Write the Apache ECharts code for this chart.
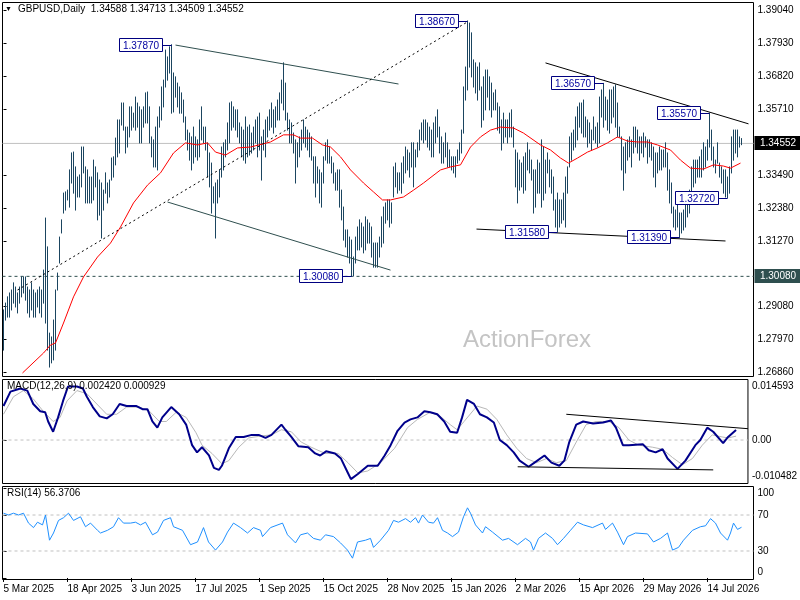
<!DOCTYPE html>
<html><head><meta charset="utf-8">
<script src="https://cdn.jsdelivr.net/npm/echarts@6/dist/echarts.min.js"></script>
<style>html,body{margin:0;padding:0;background:#fff}#c{width:800px;height:600px}</style>
</head><body><div id="c"></div>
<script>
// ---- daily bar highs / lows (bar index 0 = 5 Mar 2025) ----
const hi = [
1.2895,1.2918,1.2939,1.2952,1.2962,1.2986,1.2972,1.2952,1.2972,1.3006,
1.3006,1.3006,1.2972,1.2962,1.2986,1.2962,1.2952,1.2962,1.2972,1.2962,
1.3029,1.3204,1.3107,1.2817,1.2804,1.2861,1.2962,1.3019,1.3140,1.3198,
1.3288,1.3292,1.3298,1.3366,1.3423,1.3426,1.3376,1.3342,1.3349,1.3443,
1.3443,1.3376,1.3366,1.3342,1.3342,1.3399,1.3376,1.3356,1.3332,1.3322,
1.3298,1.3356,1.3322,1.3332,1.3406,1.3410,1.3473,1.3534,1.3534,1.3591,
1.3591,1.3510,1.3510,1.3578,1.3578,1.3557,1.3611,1.3591,1.3578,1.3568,
1.3578,1.3625,1.3628,1.3578,1.3477,1.3467,1.3510,1.3544,1.3578,1.3645,
1.3668,1.3769,1.3746,1.3780,1.3787,1.3692,1.3679,1.3658,1.3645,1.3625,
1.3601,1.3544,1.3500,1.3490,1.3477,1.3510,1.3477,1.3467,1.3534,1.3578,
1.3510,1.3510,1.3457,1.3423,1.3389,1.3309,1.3322,1.3332,1.3366,1.3443,
1.3457,1.3467,1.3524,1.3591,1.3595,1.3578,1.3568,1.3568,1.3524,1.3510,
1.3500,1.3544,1.3510,1.3517,1.3490,1.3510,1.3534,1.3544,1.3557,1.3477,
1.3500,1.3534,1.3544,1.3568,1.3591,1.3568,1.3578,1.3601,1.3625,1.3668,
1.3726,1.3658,1.3557,1.3534,1.3524,1.3490,1.3467,1.3457,1.3477,1.3500,
1.3534,1.3510,1.3500,1.3490,1.3477,1.3410,1.3410,1.3376,1.3366,1.3356,
1.3410,1.3457,1.3467,1.3443,1.3410,1.3389,1.3356,1.3366,1.3366,1.3298,
1.3241,1.3164,1.3164,1.3140,1.3130,1.3073,1.3140,1.3174,1.3198,1.3187,
1.3174,1.3208,1.3198,1.3187,1.3174,1.3120,1.3120,1.3120,1.3140,1.3208,
1.3241,1.3255,1.3265,1.3265,1.3255,1.3376,1.3389,1.3356,1.3356,1.3389,
1.3410,1.3443,1.3433,1.3423,1.3457,1.3457,1.3433,1.3457,1.3500,1.3524,
1.3534,1.3534,1.3524,1.3510,1.3500,1.3524,1.3544,1.3568,1.3510,1.3477,
1.3457,1.3490,1.3457,1.3433,1.3410,1.3410,1.3410,1.3433,1.3457,1.3500,
1.3645,1.3712,1.3867,1.3860,1.3827,1.3736,1.3726,1.3712,1.3726,1.3645,
1.3679,1.3702,1.3702,1.3679,1.3658,1.3625,1.3635,1.3591,1.3578,1.3534,
1.3557,1.3534,1.3534,1.3557,1.3568,1.3510,1.3433,1.3423,1.3399,1.3389,
1.3410,1.3423,1.3457,1.3433,1.3399,1.3366,1.3366,1.3399,1.3389,1.3467,
1.3443,1.3399,1.3423,1.3399,1.3366,1.3342,1.3265,1.3288,1.3265,1.3265,
1.3288,1.3342,1.3376,1.3477,1.3490,1.3500,1.3544,1.3578,1.3591,1.3591,
1.3601,1.3544,1.3534,1.3524,1.3500,1.3544,1.3510,1.3524,1.3611,1.3635,
1.3657,1.3611,1.3601,1.3635,1.3635,1.3645,1.3652,1.3591,1.3510,1.3477,
1.3443,1.3457,1.3467,1.3477,1.3467,1.3510,1.3510,1.3500,1.3477,1.3477,
1.3490,1.3477,1.3467,1.3467,1.3457,1.3443,1.3423,1.3423,1.3443,1.3433,
1.3433,1.3457,1.3423,1.3366,1.3322,1.3241,1.3231,1.3255,1.3221,1.3221,
1.3231,1.3255,1.3265,1.3298,1.3376,1.3399,1.3399,1.3399,1.3410,1.3433,
1.3457,1.3443,1.3467,1.3557,1.3500,1.3443,1.3399,1.3457,1.3389,1.3376,
1.3366,1.3366,1.3342,1.3376,1.3477,1.3500,1.3500,1.3500,1.3477,1.34713];
const lo = [
1.2760,1.2861,1.2871,1.2871,1.2895,1.2918,1.2905,1.2885,1.2918,1.2939,
1.2952,1.2928,1.2885,1.2871,1.2895,1.2871,1.2871,1.2905,1.2885,1.2871,
1.2918,1.2851,1.2760,1.2703,1.2717,1.2727,1.2760,1.2962,1.3053,1.3154,
1.3221,1.3231,1.3265,1.3241,1.3322,1.3288,1.3231,1.3275,1.3275,1.3309,
1.3356,1.3255,1.3255,1.3255,1.3255,1.3265,1.3309,1.3198,1.3214,1.3137,
1.3231,1.3288,1.3255,1.3275,1.3332,1.3342,1.3383,1.3410,1.3423,1.3517,
1.3500,1.3423,1.3443,1.3477,1.3500,1.3510,1.3500,1.3510,1.3457,1.3457,
1.3510,1.3524,1.3524,1.3457,1.3410,1.3376,1.3376,1.3366,1.3510,1.3534,
1.3578,1.3645,1.3668,1.3692,1.3557,1.3561,1.3611,1.3578,1.3557,1.3557,
1.3527,1.3467,1.3433,1.3399,1.3366,1.3389,1.3410,1.3399,1.3410,1.3467,
1.3457,1.3433,1.3342,1.3309,1.3221,1.3255,1.3137,1.3255,1.3275,1.3342,
1.3366,1.3410,1.3433,1.3457,1.3500,1.3510,1.3500,1.3477,1.3457,1.3410,
1.3399,1.3389,1.3410,1.3416,1.3423,1.3433,1.3457,1.3410,1.3433,1.3332,
1.3433,1.3410,1.3477,1.3500,1.3510,1.3490,1.3510,1.3534,1.3534,1.3591,
1.3568,1.3534,1.3500,1.3457,1.3457,1.3423,1.3322,1.3376,1.3410,1.3433,
1.3457,1.3443,1.3433,1.3410,1.3399,1.3322,1.3275,1.3322,1.3255,1.3241,
1.3322,1.3399,1.3389,1.3389,1.3356,1.3322,1.3298,1.3298,1.3241,1.3198,
1.3130,1.3107,1.3073,1.3053,1.3008,1.3010,1.3053,1.3097,1.3097,1.3107,
1.3087,1.3097,1.3120,1.3120,1.3073,1.3039,1.3039,1.3039,1.3073,1.3107,
1.3120,1.3187,1.3198,1.3174,1.3187,1.3275,1.3309,1.3288,1.3298,1.3288,
1.3322,1.3356,1.3366,1.3342,1.3376,1.3309,1.3376,1.3410,1.3433,1.3467,
1.3457,1.3467,1.3443,1.3433,1.3410,1.3410,1.3457,1.3477,1.3423,1.3389,
1.3389,1.3410,1.3376,1.3376,1.3366,1.3356,1.3342,1.3389,1.3399,1.3423,
1.3490,1.3601,1.3635,1.3712,1.3679,1.3645,1.3625,1.3601,1.3635,1.3510,
1.3534,1.3568,1.3611,1.3568,1.3544,1.3568,1.3568,1.3500,1.3490,1.3433,
1.3457,1.3477,1.3457,1.3477,1.3477,1.3443,1.3309,1.3255,1.3298,1.3309,
1.3288,1.3298,1.3366,1.3356,1.3332,1.3221,1.3241,1.3288,1.3288,1.3241,
1.3265,1.3288,1.3356,1.3309,1.3288,1.3231,1.3174,1.3158,1.3174,1.3187,
1.3198,1.3174,1.3288,1.3376,1.3399,1.3433,1.3443,1.3467,1.3510,1.3490,
1.3477,1.3477,1.3443,1.3457,1.3433,1.3467,1.3457,1.3443,1.3457,1.3544,
1.3510,1.3534,1.3500,1.3490,1.3524,1.3544,1.3510,1.3477,1.3477,1.3366,
1.3298,1.3356,1.3399,1.3410,1.3376,1.3423,1.3443,1.3423,1.3399,1.3423,
1.3410,1.3443,1.3389,1.3410,1.3399,1.3342,1.3309,1.3356,1.3366,1.3366,
1.3376,1.3376,1.3298,1.3255,1.3221,1.3174,1.3164,1.3174,1.3139,1.3154,
1.3164,1.3174,1.3208,1.3221,1.3255,1.3309,1.3322,1.3342,1.3342,1.3342,
1.3366,1.3376,1.3399,1.3443,1.3399,1.3376,1.3356,1.3389,1.3342,1.3322,
1.3288,1.3275,1.3272,1.3288,1.3356,1.3399,1.3423,1.3410,1.3443,1.34509];

// ---- date ticks ----
const tickBars = [0,32,64,96,128,160,192,224,256,288,320,352];
const tickLabels = ['5 Mar 2025','18 Apr 2025','3 Jun 2025','17 Jul 2025','1 Sep 2025','15 Oct 2025','28 Nov 2025','15 Jan 2026','2 Mar 2026','15 Apr 2026','29 May 2026','14 Jul 2026'];
const priceTicks = [1.3904,1.3793,1.3682,1.3571,1.3349,1.3238,1.3127,1.2908,1.2797,1.2686];
const macdTicks = [0.014593,0,-0.010482];
const rsiTicks = [0,30,70,100];

// ---- moving average (red) [bar, price] ----
const maPts = [[9.5,1.2683],[20,1.2750],[23.5,1.2777],[26,1.2784],[30,1.2851],[35,1.2939],[40,1.3006],[47,1.3073],[53.5,1.3120],[58.5,1.3174],[65,1.3255],[72,1.3315],[78.5,1.3356],[85,1.3423],[91,1.3457],[97,1.3450],[102,1.3457],[106,1.3426],[111,1.3416],[117,1.3440],[123.5,1.3443],[133.5,1.3460],[140,1.3484],[145,1.3484],[148.5,1.3473],[154.5,1.3473],[159.5,1.3450],[163.5,1.3443],[168.5,1.3410],[173.5,1.3366],[180,1.3322],[185,1.3292],[189.5,1.3265],[193.5,1.3265],[200,1.3275],[205,1.3298],[210,1.3322],[218.5,1.3366],[223.5,1.3376],[228.5,1.3383],[233.5,1.3443],[238.5,1.3477],[243.5,1.3500],[248.5,1.3510],[255,1.3507],[260,1.3490],[268.5,1.3450],[273.5,1.3433],[278.5,1.3406],[282.5,1.3389],[287,1.3406],[292,1.3426],[297,1.3440],[302,1.3457],[307,1.3477],[312,1.3463],[317,1.3460],[322,1.3460],[327,1.3450],[333.5,1.3433],[338.5,1.3399],[343.5,1.3372],[350,1.3369],[355,1.3383],[360,1.3379],[363.5,1.3372],[368.5,1.3389]];

// ---- MACD main / signal [bar, value] ----
const macdPts = [[0,0.00819],[3.5,0.01167],[8.5,0.01241],[12,0.01192],[15,0.00869],[18.5,0.00695],[21,0.00670],[22.5,0.00447],[25,0.00199],[27.5,0.00546],[30,0.00943],[32.5,0.01291],[37,0.01291],[40,0.01241],[42,0.01043],[45,0.00794],[48.5,0.00571],[52,0.00521],[55,0.00621],[58.5,0.00869],[62,0.00819],[67,0.00819],[70,0.00745],[72.5,0.00745],[75,0.00447],[77.5,0.00298],[80,0.00546],[84.5,0.00794],[88.5,0.00621],[92,0.00372],[95,-0.00124],[97.5,-0.00298],[100,-0.00174],[103.5,-0.00372],[106,-0.00670],[108.5,-0.00720],[110,-0.00621],[113.5,-0.00199],[117,0.00074],[121,0.00074],[125,0.00124],[128.5,0.00124],[132,0.00050],[135,0.00124],[140,0.00372],[142,0.00248],[145,0.00074],[148.5,-0.00149],[153.5,-0.00174],[157,-0.00323],[159.5,-0.00372],[162.5,-0.00273],[167,-0.00323],[170,-0.00447],[173.5,-0.00794],[175,-0.00943],[178.5,-0.00819],[183.5,-0.00621],[188.5,-0.00621],[192,-0.00372],[195,-0.00124],[198.5,0.00223],[202,0.00422],[205,0.00497],[208.5,0.00546],[212,0.00695],[215,0.00670],[218.5,0.00621],[222,0.00447],[225,0.00199],[228.5,0.00174],[231,0.00546],[233.5,0.00968],[237,0.00869],[240,0.00621],[243.5,0.00546],[247,0.00422],[250,0],[253.5,-0.00124],[257,-0.00298],[260,-0.00497],[264.5,-0.00645],[267.5,-0.00546],[272.5,-0.00372],[276,-0.00546],[280,-0.00621],[282.5,-0.00497],[285,-0.00050],[288.5,0.00372],[292,0.00447],[297,0.00397],[302,0.00422],[306,0.00472],[308.5,0.00298],[312,-0.00124],[315,-0.00124],[322,-0.00099],[325,-0.00248],[328.5,-0.00298],[332,-0.00223],[334.5,-0.00447],[339.5,-0.00695],[343.5,-0.00497],[348.5,-0.00124],[351,0],[354.5,0.00298],[357.5,0.00199],[362.5,-0.00074],[365,0.00074],[369,0.00242]];
const sigPts = [[0,0.00621],[5,0.01043],[10,0.01192],[15,0.00993],[20,0.00695],[25,0.00447],[28.5,0.00546],[32,0.00943],[37,0.01192],[42,0.01117],[47,0.00869],[52,0.00621],[57,0.00621],[62,0.00794],[68.5,0.00794],[73.5,0.00695],[78.5,0.00447],[82,0.00447],[87,0.00670],[92,0.00546],[97,0.00174],[100,-0.00124],[105,-0.00323],[110,-0.00571],[113.5,-0.00497],[118.5,-0.00174],[123.5,0.00050],[130,0.00099],[135,0.00124],[140,0.00248],[145,0.00199],[150,-0.00050],[155,-0.00174],[162,-0.00323],[168.5,-0.00323],[173.5,-0.00546],[178.5,-0.00794],[183.5,-0.00745],[190,-0.00546],[197,-0.00199],[203.5,0.00298],[208.5,0.00497],[215,0.00670],[220,0.00571],[225,0.00372],[228.5,0.00248],[232,0.00447],[238.5,0.00819],[243.5,0.00745],[248.5,0.00497],[253.5,0.00124],[258.5,-0.00199],[263.5,-0.00447],[268.5,-0.00546],[273.5,-0.00447],[278.5,-0.00546],[283.5,-0.00497],[288.5,-0.00050],[293.5,0.00372],[298.5,0.00447],[305,0.00447],[310,0.00298],[315,0],[320,-0.00124],[327,-0.00174],[332,-0.00223],[337,-0.00422],[342,-0.00596],[347,-0.00447],[352,-0.00124],[357,0.00124],[362,0.00074],[365,0.00050],[369,0.00093]];

// ---- RSI(14) [bar, value] ----
const rsiPts = [[0,72],[2.5,70],[5,72],[7.5,70],[10,72],[12.5,61],[15,56],[17,62],[19.5,59],[21,70],[23,42],[25,50],[27.5,64],[30,67],[32.5,72],[35,64],[38.5,68],[41,57],[43.5,61],[47,53],[48.5,50],[52,53],[55,57],[57.5,67],[60,61],[63.5,61],[66,62],[68.5,59],[71,62],[74.5,48],[77,51],[80,64],[83.5,67],[85,57],[89.5,53],[93.5,37],[97,40],[100,56],[102.5,40],[106,31],[109.5,40],[112,51],[115,61],[118.5,56],[122,50],[125,56],[128.5,53],[129.5,46],[133.5,56],[139.5,61],[142,48],[146,39],[148.5,48],[152,50],[155,44],[158.5,42],[161,48],[165,46],[168.5,39],[172,31],[174.5,22],[177,40],[181,42],[183.5,44],[185,34],[188.5,42],[192.5,53],[195,64],[197.5,62],[198.5,61],[201,66],[203.5,62],[206,67],[207.5,61],[209.5,70],[212.5,62],[215,61],[217,67],[219.5,53],[222,50],[224.5,46],[227.5,51],[230,68],[232,78],[233.5,72],[236,59],[239.5,50],[241,57],[244.5,51],[249.5,42],[252.5,44],[257,37],[261,44],[263.5,40],[265,31],[267.5,44],[271,50],[274.5,44],[277,37],[280,44],[283.5,53],[287,62],[290,59],[294.5,56],[299.5,61],[301,54],[304.5,61],[307,51],[310,37],[312,46],[316,50],[322,49],[325,40],[328.5,44],[332,50],[334.5,31],[337.5,34],[340,42],[344.5,53],[348.5,57],[351,58],[353.5,66],[356,61],[358.5,50],[362,42],[363.5,50],[365,61],[367,54],[369,56.37]];

// ---- annotations ----
const labelBars = [84,232,300,353,174,277,338,362];
const labelPrices = [1.3787,1.3867,1.3657,1.3557,1.3008,1.3158,1.3139,1.3272];
const lastPrice = 1.34552;
const supportLevel = 1.3008;
const tagPrices = [1.34552, 1.30080];
const channelTop = [[86,1.3786],[197.5,1.3655]];
const channelBottom = [[82,1.3258],[193.5,1.3029]];
const riseLine = [[7,1.2962],[232,1.3864]];
const resistLine = [[271,1.3726],[372.5,1.3521]];
const supportLine = [[236.5,1.3167],[361,1.3127]];
const macdUpper = [[283.5,0.00621],[375,0.00273]];
const macdLower = [[259,-0.00645],[357.5,-0.0072]];

const FONT = "'Liberation Sans', Arial, sans-serif";
const XMIN = -0.5, XMAX = 375;

const chart = echarts.init(document.getElementById('c'), null, {renderer:'canvas'});

function xAx(g, showLabels){
  const a = {type:'value', gridIndex:g, min:XMIN, max:XMAX, axisLine:{show:false}, splitLine:{show:false},
    axisTick:{show:false}, axisLabel:{show:false}};
  if(showLabels){
    a.axisTick = {show:true, customValues:tickBars, length:4, lineStyle:{color:'#000'}};
    a.axisLabel = {show:true, customValues:tickBars, align:'left', margin:5, fontSize:10, fontFamily:FONT, color:'#000',
      formatter: v => tickLabels[tickBars.indexOf(v)]};
  }
  return a;
}
function seg(pts, xi, yi, color, type, width, z){
  return {type:'line', xAxisIndex:xi, yAxisIndex:yi, data:pts, symbol:'none', silent:true, z:z||3,
    lineStyle:{color:color, width:width||1, type:type||'solid'}};
}

const option = {
  animation:false,
  backgroundColor:'#fff',
  title:[
    {text:'\u25BC', left:5, top:6, padding:0, textStyle:{fontSize:7, color:'#000', fontWeight:'normal', fontFamily:FONT}},
    {text:'GBPUSD,Daily  1.34588 1.34713 1.34509 1.34552', left:18, top:4, padding:0, textStyle:{fontSize:10, color:'#000', fontWeight:'normal', fontFamily:FONT}},
    {text:'MACD(12,26,9) 0.002420 0.000929', left:7, top:381, padding:0, textStyle:{fontSize:10, color:'#000', fontWeight:'normal', fontFamily:FONT}},
    {text:'RSI(14) 56.3706', left:7, top:488, padding:0, textStyle:{fontSize:10, color:'#000', fontWeight:'normal', fontFamily:FONT}},
    {text:'ActionForex', left:463, top:328, padding:0, textStyle:{fontSize:24, color:'#c4c4c4', fontWeight:'normal', fontFamily:FONT}}
  ],
  grid:[
    {left:2.5, top:2.5, width:751, height:374, show:true, borderColor:'#000', borderWidth:1, backgroundColor:'#fff'},
    {left:2.5, top:379.5, width:751, height:104, show:true, borderColor:'#000', borderWidth:1, backgroundColor:'#fff'},
    {left:2.5, top:486.5, width:751, height:93, show:true, borderColor:'#000', borderWidth:1, backgroundColor:'#fff'}
  ],
  xAxis:[xAx(0,false), xAx(1,false), xAx(2,true)],
  yAxis:[
    {type:'value', gridIndex:0, position:'right', min:1.26711, max:1.39292, axisLine:{show:false}, splitLine:{show:false},
      axisTick:{show:true, customValues:priceTicks, length:3, lineStyle:{color:'#000'}},
      axisLabel:{customValues:priceTicks, margin:4, fontSize:10, fontFamily:FONT, color:'#000', formatter:v=>v.toFixed(5)}},
    {type:'value', gridIndex:1, position:'right', min:-0.010482, max:0.014593, axisLine:{show:false}, splitLine:{show:false},
      axisTick:{show:true, customValues:macdTicks, length:3, lineStyle:{color:'#000'}},
      axisLabel:{customValues:macdTicks, margin:4, fontSize:10, fontFamily:FONT, color:'#000',
        formatter:v=> v===0 ? '{m|0.00}' : (v>0 ? '{t|'+v.toFixed(6)+'}' : '{b|'+v.toFixed(6)+'}'),
        rich:{t:{padding:[13,0,0,0], fontSize:10, fontFamily:FONT}, b:{padding:[0,0,15,0], fontSize:10, fontFamily:FONT}, m:{fontSize:10, fontFamily:FONT}}}},
    {type:'value', gridIndex:2, position:'right', min:-1.7, max:101.7, axisLine:{show:false}, splitLine:{show:false},
      axisTick:{show:true, customValues:rsiTicks, length:3, lineStyle:{color:'#000'}},
      axisLabel:{customValues:rsiTicks, margin:4, fontSize:10, fontFamily:FONT, color:'#000',
        formatter:v=> v===100 ? '{t|100}' : (v===0 ? '{b|0}' : '{m|'+v+'}'),
        rich:{t:{padding:[10,0,0,0], fontSize:10, fontFamily:FONT}, b:{padding:[0,0,12,0], fontSize:10, fontFamily:FONT}, m:{fontSize:10, fontFamily:FONT}}}}
  ],
  series:[
    // current price line and support level
    seg([[XMIN,lastPrice],[XMAX,lastPrice]],0,0,'#c0c0c0','solid',1,1),
    seg([[XMIN,supportLevel],[XMAX,supportLevel]],0,0,'#2f4f4f',[3,3],1,1),
    // price bars
    {type:'custom', xAxisIndex:0, yAxisIndex:0, z:2, silent:true,
      data: hi.map((h,i)=>[i, lo[i], h]), encode:{x:0, y:[1,2]},
      renderItem:function(params, api){
        const i = api.value(0);
        const a = api.coord([i, api.value(1)]);
        const b = api.coord([i, api.value(2)]);
        const x = Math.floor(a[0]) + 0.5;
        return {type:'line', shape:{x1:x, y1:a[1]+0.5, x2:x, y2:b[1]-0.5}, style:{stroke:'#1b4560', lineWidth:1}};
      }},
    // moving average
    {type:'line', xAxisIndex:0, yAxisIndex:0, data:maPts, symbol:'none', silent:true, z:3, lineStyle:{color:'#ff0000', width:1}},
    // trendlines
    seg(channelTop,0,0,'#2f4f4f','solid',1,4),
    seg(channelBottom,0,0,'#2f4f4f','solid',1,4),
    seg(riseLine,0,0,'#000',[2,3],1,4),
    seg(resistLine,0,0,'#000','solid',1,4),
    seg(supportLine,0,0,'#000','solid',1,4),
    // price labels
    {type:'custom', xAxisIndex:0, yAxisIndex:0, z:6, silent:true,
      data: labelBars.map((b,k)=>[b, labelPrices[k]]), encode:{x:0, y:1},
      renderItem:function(params, api){
        const p = api.coord([api.value(0), api.value(1)]);
        const x = Math.floor(p[0]) + 0.5, y = Math.round(p[1]) + 0.5;
        return {type:'group', children:[
          {type:'line', shape:{x1:x-9, y1:y, x2:x, y2:y}, style:{stroke:'#000080', lineWidth:1}},
          {type:'rect', shape:{x:x-52, y:y-7, width:43, height:13}, style:{fill:'#fff', stroke:'#000080', lineWidth:1}},
          {type:'text', x:x-30.5, y:y+0.5, style:{text:api.value(1).toFixed(5), align:'center', verticalAlign:'middle', fill:'#0000a0', font:'10px ' + FONT}}
        ]};
      }},
    // right-axis price tags
    {type:'custom', xAxisIndex:0, yAxisIndex:0, z:10, silent:true,
      data: tagPrices.map(p=>[XMAX, p]), encode:{x:0, y:1},
      renderItem:function(params, api){
        const p = api.coord([api.value(0), api.value(1)]);
        const x = Math.round(p[0]) + 0.5, y = Math.round(p[1]);
        const bg = params.dataIndex === 0 ? '#000000' : '#2f4f4f';
        return {type:'group', children:[
          {type:'rect', shape:{x:x, y:y-7, width:47, height:14}, style:{fill:bg}},
          {type:'text', x:x+23.5, y:y, style:{text:api.value(1).toFixed(5), align:'center', verticalAlign:'middle', fill:'#fff', font:'10px ' + FONT}}
        ]};
      }},
    // MACD panel
    seg([[XMIN,0],[XMAX,0]],1,1,'#c0c0c0',[3,3],1,1),
    {type:'line', xAxisIndex:1, yAxisIndex:1, data:sigPts, symbol:'none', silent:true, z:2, lineStyle:{color:'#b8b8b8', width:1}},
    {type:'line', xAxisIndex:1, yAxisIndex:1, data:macdPts, symbol:'none', silent:true, z:3, lineStyle:{color:'#00008b', width:2}},
    seg(macdUpper,1,1,'#000','solid',1,4),
    seg(macdLower,1,1,'#000','solid',1,4),
    // RSI panel
    seg([[XMIN,70],[XMAX,70]],2,2,'#c0c0c0',[3,3],1,1),
    seg([[XMIN,30],[XMAX,30]],2,2,'#c0c0c0',[3,3],1,1),
    {type:'line', xAxisIndex:2, yAxisIndex:2, data:rsiPts, symbol:'none', silent:true, z:3, lineStyle:{color:'#1e90ff', width:1}}
  ]
};
chart.setOption(option);
</script>
</body></html>
